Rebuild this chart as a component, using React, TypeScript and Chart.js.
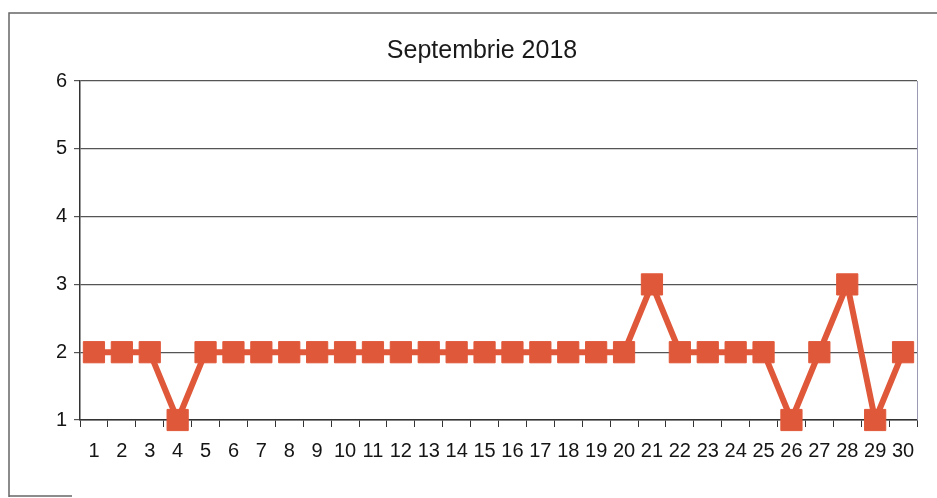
import React, { useEffect, useRef } from "react";
import { Chart, registerables } from "chart.js";

Chart.register(...registerables);

const titleText = "Septembrie 2018";
const days = Array.from({ length: 30 }, (_, i) => String(i + 1));
const values = [2, 2, 2, 1, 2, 2, 2, 2, 2, 2, 2, 2, 2, 2, 2, 2, 2, 2, 2, 2, 3, 2, 2, 2, 2, 1, 2, 3, 1, 2];
const yMin = 1;
const yMax = 6;

const FONT = "'Liberation Sans', Arial, sans-serif";

const decorPlugin = {
  id: "decor",
  beforeDraw(chart: any) {
    const ctx = chart.ctx;
    ctx.save();
    ctx.fillStyle = "#ffffff";
    ctx.fillRect(0, 0, chart.width, chart.height);
    // outer frame
    ctx.strokeStyle = "#666666";
    ctx.lineWidth = 1.5;
    ctx.beginPath();
    ctx.moveTo(9, 497);
    ctx.lineTo(9, 13);
    ctx.lineTo(chart.width + 2, 13);
    ctx.stroke();
    ctx.beginPath();
    ctx.moveTo(9, 496);
    ctx.lineTo(72, 496);
    ctx.stroke();
    // title
    ctx.fillStyle = "#1a1a1a";
    ctx.font = `25px ${FONT}`;
    ctx.textAlign = "center";
    ctx.textBaseline = "alphabetic";
    ctx.fillText(titleText, 482, 58);
    ctx.restore();
  },
  afterDraw(chart: any) {
    const { ctx, chartArea } = chart;
    ctx.save();
    ctx.strokeStyle = "#9a9ab4";
    ctx.lineWidth = 1;
    ctx.beginPath();
    ctx.moveTo(chartArea.right + 0.5, chartArea.top);
    ctx.lineTo(chartArea.right + 0.5, chartArea.bottom);
    ctx.stroke();
    ctx.restore();
  },
};

export default function App() {
  const ref = useRef<HTMLCanvasElement>(null);
  useEffect(() => {
    if (!ref.current) return;
    const chart = new Chart(ref.current, {
      type: "line",
      data: {
        labels: days,
        datasets: [
          {
            data: values,
            borderColor: "#e0583a",
            backgroundColor: "#e0583a",
            borderWidth: 6,
            pointStyle: "rect",
            pointRadius: 15,
            pointBorderWidth: 1,
            pointBorderColor: "#e0583a",
            pointBackgroundColor: "#e0583a",
            tension: 0,
            clip: false,
          },
        ],
      },
      options: {
        animation: false,
        responsive: false,
        events: [],
        layout: { padding: { top: 81, right: 20, left: 0, bottom: 0 } },
        plugins: {
          legend: { display: false },
          title: { display: false },
          tooltip: { enabled: false },
        },
        scales: {
          x: {
            offset: true,
            afterFit: (s: any) => {
              s.height = 78;
            },
            grid: {
              offset: true,
              drawOnChartArea: false,
              drawTicks: true,
              tickLength: 7,
              color: "#333333",
            },
            border: { color: "#333333", width: 1.5 },
            ticks: {
              autoSkip: false,
              maxRotation: 0,
              minRotation: 0,
              padding: 12,
              color: "#151515",
              font: { family: FONT, size: 20 },
            },
          },
          y: {
            min: yMin,
            max: yMax,
            afterFit: (s: any) => {
              s.width = 80;
            },
            grid: {
              color: "#555555",
              lineWidth: 1.2,
              drawTicks: true,
              tickLength: 6,
            },
            border: { color: "#333333", width: 1.5 },
            ticks: {
              stepSize: 1,
              padding: 7,
              color: "#151515",
              font: { family: FONT, size: 20 },
            },
          },
        },
      },
      plugins: [decorPlugin],
    });
    return () => chart.destroy();
  }, []);
  return (
    <div style={{ position: "absolute", left: 0, top: 0, width: 937, height: 498 }}>
      <canvas ref={ref} width={937} height={498} style={{ display: "block", width: 937, height: 498 }} />
    </div>
  );
}
